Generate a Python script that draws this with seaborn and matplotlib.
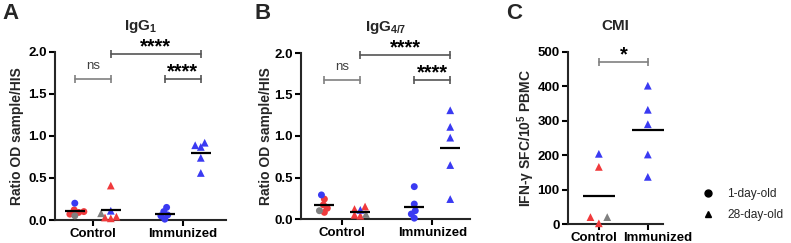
import numpy as np
import pandas as pd
import seaborn as sns
import matplotlib.pyplot as plt
from matplotlib.lines import Line2D
from matplotlib.transforms import ScaledTranslation

# ---------------- data ----------------
groups = ["Control", "Immunized"]
ages = ["1-day-old", "28-day-old"]

# Panel A : IgG1
igg1_group = ["Control"] * 12 + ["Immunized"] * 10
igg1_age = ["1-day-old"] * 6 + ["28-day-old"] * 6 + ["1-day-old"] * 5 + ["28-day-old"] * 5
igg1_value = [0.07, 0.10, 0.12, 0.09, 0.20, 0.05,
              0.41, 0.03, 0.04, 0.02, 0.11, 0.08,
              0.10, 0.01, 0.05, 0.15, 0.06,
              0.89, 0.92, 0.87, 0.74, 0.56]
igg1_colour = ["red", "red", "red", "red", "blue", "grey",
               "red", "red", "red", "red", "blue", "grey",
               "blue", "blue", "blue", "blue", "blue",
               "blue", "blue", "blue", "blue", "blue"]

# Panel B : IgG4/7
igg47_group = ["Control"] * 12 + ["Immunized"] * 10
igg47_age = ["1-day-old"] * 6 + ["28-day-old"] * 6 + ["1-day-old"] * 5 + ["28-day-old"] * 5
igg47_value = [0.08, 0.24, 0.17, 0.13, 0.29, 0.10,
               0.15, 0.12, 0.04, 0.05, 0.11, 0.06,
               0.39, 0.18, 0.10, 0.01, 0.06,
               1.31, 1.11, 0.98, 0.65, 0.24]
igg47_colour = igg1_colour

# Panel C : CMI (all 28-day-old)
cmi_group = ["Control"] * 5 + ["Immunized"] * 5
cmi_age = ["28-day-old"] * 10
cmi_value = [204, 166, 20, 20, 2, 402, 332, 290, 202, 137]
cmi_colour = ["blue", "red", "grey", "red", "red",
              "blue", "blue", "blue", "blue", "blue"]

palette = {"red": "#f03a3c", "blue": "#3a3af2", "grey": "#808080"}

# ---------------- style ----------------
sns.set_style("ticks")
plt.rcParams["font.family"] = ["Liberation Sans", "DejaVu Sans"]
plt.rcParams["mathtext.fontset"] = "custom"
plt.rcParams["mathtext.rm"] = "Liberation Sans"
plt.rcParams["mathtext.bf"] = "Liberation Sans:bold"
plt.rcParams["axes.linewidth"] = 1.5
plt.rcParams["xtick.major.width"] = 1.5
plt.rcParams["ytick.major.width"] = 1.5
plt.rcParams["xtick.major.size"] = 4
plt.rcParams["ytick.major.size"] = 4

W, H = 791, 243
fig = plt.figure(figsize=(W / 100, H / 100), dpi=100)


def add_ax(l, r, t, b):
    return fig.add_axes([l / W, 1 - b / H, (r - l) / W, (b - t) / H])


def panel(ax, grp, age, val, col, dodge, mean_len, xlim, ylim, spread):
    df = pd.DataFrame({"group": grp, "age": age, "value": val, "colour": col})
    ax.set_xlim(*xlim)
    ax.set_ylim(*ylim)
    for (g, a), sub in df.groupby(["group", "age"], sort=False):
        n0 = len(ax.collections)
        marker = "o" if a == ages[0] else "^"
        shown = 5.0 if a == ages[0] else 5.6
        sns.swarmplot(data=sub, x="group", y="value", hue="age", order=groups,
                      hue_order=ages if dodge else None, dodge=dodge,
                      palette={ages[0]: "k", ages[1]: "k"}, marker=marker,
                      size=shown * spread, linewidth=0, legend=False, ax=ax, zorder=3)
        for c in ax.collections[n0:]:
            if len(c.get_offsets()) != len(sub):
                continue
            # keep the swarm computed with the chosen spacing, then show final markers
            if "draw" in c.__dict__:
                del c.draw
            c.set_facecolor([palette[k] for k in sub["colour"]])
            c.set_sizes([shown ** 2])
            c.set_clip_on(False)
        ax.set_xlim(*xlim)
        ax.set_ylim(*ylim)
    sns.pointplot(data=df, x="group", y="value", hue="age", order=groups,
                  hue_order=ages if dodge else None,
                  dodge=0.4 if dodge else False, estimator="mean", errorbar=None,
                  markers="_", linestyles="none", palette={ages[0]: "k", ages[1]: "k"},
                  markersize=mean_len, markeredgewidth=1.6, legend=False, ax=ax)
    for l in ax.lines:
        l.set_zorder(4)
        l.set_clip_on(False)


def bracket(ax, x1, x2, y, text, colour, tcolour, fs, off, weight="bold"):
    ax.plot([x1, x2], [y, y], color=colour, lw=1.2, marker="|", markersize=6,
            markeredgewidth=1.2, clip_on=False, zorder=5)
    ax.annotate(text, xy=((x1 + x2) / 2, y), xytext=(0, off), textcoords="offset points",
                ha="center", va="baseline", fontsize=fs, fontweight=weight,
                color=tcolour, annotation_clip=False)


def style(ax, ylim, yticks, yfmt, ylabel, title, xlim, labelpad):
    ax.set_xlim(*xlim)
    ax.set_ylim(*ylim)
    ax.set_yticks(yticks)
    ax.set_yticklabels([yfmt.format(v) for v in yticks], fontsize=9.5, fontweight="bold")
    ax.set_xticks(range(len(groups)))
    ax.set_xticklabels(groups, fontsize=9.5, fontweight="bold")
    ax.set_xlabel("")
    ax.set_ylabel(ylabel, fontsize=10, fontweight="bold", labelpad=labelpad)
    ax.set_title(title, fontsize=11, fontweight="bold", pad=16)
    ax.tick_params(axis="y", pad=2, colors="black")
    ax.tick_params(axis="x", pad=1.5, colors="black")
    sns.despine(ax=ax)


# Panel A
axA = add_ax(55, 226, 52, 220)
panel(axA, igg1_group, igg1_age, igg1_value, igg1_colour, True, 14,
      (-0.42, 1.48), (0, 2.0), 0.72)
style(axA, (0, 2.0), [0, 0.5, 1.0, 1.5, 2.0], "{:.1f}", "Ratio OD sample/HIS",
      r"IgG$_{\mathbf{1}}$", (-0.42, 1.48), 3)
bracket(axA, -0.2, 0.2, 1.68, "ns", "#808080", "#404040", 9.5, 7, weight="normal")
bracket(axA, 0.2, 1.2, 1.98, "****", "#555555", "black", 14.5, 1)
bracket(axA, 0.8, 1.2, 1.68, "****", "#555555", "black", 14.5, 1)

# Panel B
axB = add_ax(301, 470, 53, 219)
panel(axB, igg47_group, igg47_age, igg47_value, igg47_colour, True, 14,
      (-0.46, 1.42), (0, 2.0), 0.72)
style(axB, (0, 2.0), [0, 0.5, 1.0, 1.5, 2.0], "{:.1f}", "Ratio OD sample/HIS",
      r"IgG$_{\mathbf{4/7}}$", (-0.46, 1.42), 0.5)
bracket(axB, -0.2, 0.2, 1.68, "ns", "#808080", "#404040", 9.5, 7, weight="normal")
bracket(axB, 0.2, 1.2, 1.98, "****", "#555555", "black", 14.5, 1)
bracket(axB, 0.8, 1.2, 1.68, "****", "#555555", "black", 14.5, 1)

# Panel C
axC = add_ax(568, 663, 52, 224)
panel(axC, cmi_group, cmi_age, cmi_value, cmi_colour, False, 23,
      (-0.63, 1.31), (0, 500), 1.3)
style(axC, (0, 500), [0, 100, 200, 300, 400, 500], "{:d}",
      r"IFN-γ SFC/10$^{\mathbf{5}}$ PBMC", "CMI", (-0.63, 1.31), 0)
bracket(axC, 0, 1, 472, "*", "#808080", "black", 14.5, 1)
# nudge the two crowded category labels apart, as in the original
for lab, dx in zip(axC.get_xticklabels(), [-0.045, 0.095]):
    lab.set_transform(lab.get_transform() + ScaledTranslation(dx, 0, fig.dpi_scale_trans))

# Panel letters
fig.text(2 / W, 1 - 3 / H, "A", fontsize=16, fontweight="bold", va="top", ha="left")
fig.text(254 / W, 1 - 3 / H, "B", fontsize=16, fontweight="bold", va="top", ha="left")
fig.text(506 / W, 1 - 3 / H, "C", fontsize=16, fontweight="bold", va="top", ha="left")

# Legend
handles = [Line2D([], [], marker="o", color="black", linestyle="none", markersize=5),
           Line2D([], [], marker="^", color="black", linestyle="none", markersize=5)]
fig.legend(handles, ages, loc="center left", bbox_to_anchor=(702 / W, 1 - 204.5 / H),
           frameon=False, fontsize=8.6, handlelength=1.0, handletextpad=1.1,
           borderpad=0, borderaxespad=0, labelspacing=0.8)

fig.savefig("out.png", dpi=100)
